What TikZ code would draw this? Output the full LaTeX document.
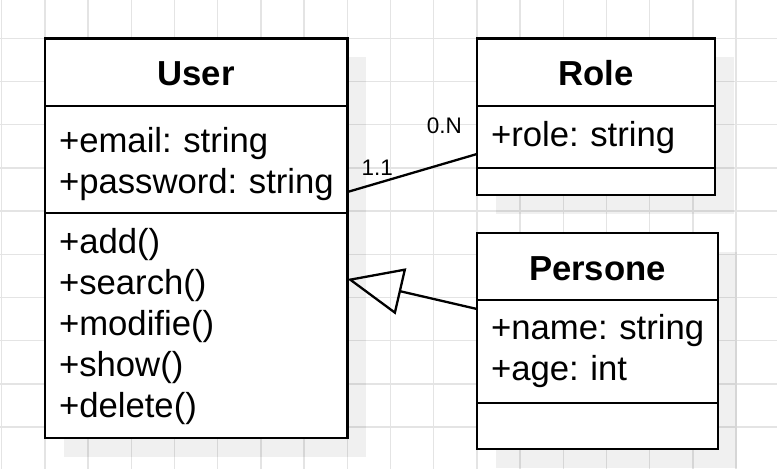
\documentclass[tikz,border=0pt]{standalone}
\usepackage{fontspec}
\setmainfont{Liberation Sans}
\usepackage{tikz}
\usetikzlibrary{arrows.meta,shapes,positioning,shadows}
\usepackage{xcolor}
\definecolor{umlgrid}{RGB}{228,228,228}
\tikzstyle{classbox} = [rectangle, draw=black, fill=white, line width=2.6pt, inner xsep=14pt, inner ysep=0pt, outer sep=0pt, align=left, font=\fontsize{34.7}{41}\selectfont, drop shadow={shadow xshift=19pt, shadow yshift=-19pt, fill=black, opacity=0.06}]
\tikzstyle{classtitle} = [classbox, align=center, font=\fontsize{34.7}{41}\selectfont\bfseries]
\tikzstyle{mult} = [font=\fontsize{22.5}{26}\selectfont, inner sep=0pt]
\tikzstyle{assoc} = [line width=2.3pt]
\tikzstyle{inherit} = [line width=2.3pt, -{Triangle[open, length=55pt, width=47pt]}]

\begin{document}
\begin{tikzpicture}[x=1pt, y=-1pt]
\fill[white] (0,0) rectangle (777,469);
\useasboundingbox (0,0) rectangle (777,469);
% grid
\foreach \i in {0,...,17}
  \draw[umlgrid, line width=1.4pt] (1.7+43.2*\i,0) -- (1.7+43.2*\i,469);
\foreach \j in {0,...,9}
  \draw[umlgrid, line width=1.4pt] (0,38.3+43.2*\j) -- (777,38.3+43.2*\j);

% User
\node[classtitle, text width=274.4pt, text height=46.7pt, text depth=21pt, anchor=north west] (userhead) at (45,38.3) {User};
\node[classbox, text width=274.4pt, text height=46pt, text depth=61pt, below=0pt of userhead] (userattr) {+email:~string\\+password:~string};
\node[classbox, text width=274.4pt, text height=40pt, text depth=185pt, below=0pt of userattr] (usermeth) {+add()\\+search()\\+modifie()\\+show()\\+delete()};

% Role
\node[classtitle, text width=210pt, text height=46.7pt, text depth=21pt, anchor=north west] (rolehead) at (477,38.3) {Role};
\node[classbox, text width=210pt, text height=40.7pt, text depth=21.3pt, below=0pt of rolehead] (roleattr) {+role:~string};
\node[classbox, text width=210pt, text height=27pt, text depth=0pt, below=0pt of roleattr] (roleop) {};

% Persone
\node[classtitle, text width=213pt, text height=47pt, text depth=20pt, anchor=north west] (perhead) at (477,233) {Persone};
\node[classbox, text width=213pt, text height=39.3pt, text depth=63.7pt, below=0pt of perhead] (perattr) {+name:~string\\+age:~int};
\node[classbox, text width=213pt, text height=46pt, text depth=0pt, below=0pt of perattr] (perop) {};

% links
\draw[assoc] ([yshift=21pt]userattr.south east) -- ([yshift=14pt]roleattr.south west)
  node[mult, pos=0, anchor=south west, xshift=13pt, yshift=15pt] {1.1}
  node[mult, pos=1, anchor=south east, xshift=-14pt, yshift=19pt] {0.N};
\draw[inherit] ([yshift=-9pt]perattr.north west) -- ([yshift=-66pt]usermeth.north east);
\end{tikzpicture}
\end{document}
